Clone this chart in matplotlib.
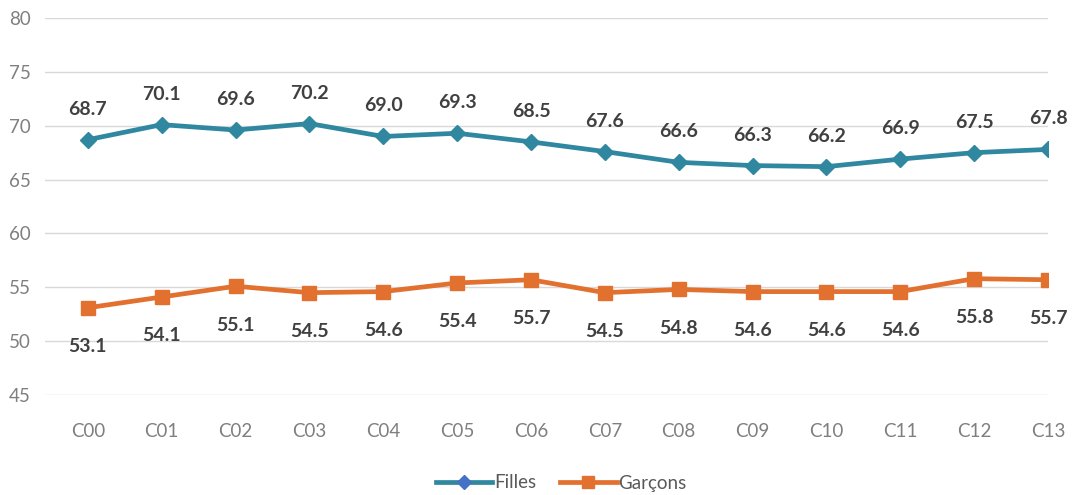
import matplotlib.pyplot as plt
from matplotlib.lines import Line2D

categories = ['C00', 'C01', 'C02', 'C03', 'C04', 'C05', 'C06',
              'C07', 'C08', 'C09', 'C10', 'C11', 'C12', 'C13']
filles = [68.7, 70.1, 69.6, 70.2, 69.0, 69.3, 68.5,
          67.6, 66.6, 66.3, 66.2, 66.9, 67.5, 67.8]
garcons = [53.1, 54.1, 55.1, 54.5, 54.6, 55.4, 55.7,
           54.5, 54.8, 54.6, 54.6, 54.6, 55.8, 55.7]

teal = '#2F87A0'
orange = '#E2702F'
label_col = '#404040'

plt.rcParams['font.family'] = ['Lato', 'DejaVu Sans']

fig = plt.figure(figsize=(10.73, 4.95), dpi=100)
ax = fig.add_axes([45 / 1073, 1 - 395 / 495, (1048 - 45) / 1073, (395 - 18) / 495])

x = list(range(len(categories)))
ax.plot(x, filles, color=teal, lw=3.4, marker='D', ms=8.5, zorder=3)
ax.plot(x, garcons, color=orange, lw=3.4, marker='s', ms=10, zorder=3)

# value labels: above for Filles, below for Garçons
for xi, v in zip(x, filles):
    ax.annotate(f'{v:.1f}', (xi, v), xytext=(0, 22), textcoords='offset points',
                ha='center', va='center', fontsize=14, fontweight='bold', color=label_col)
for xi, v in zip(x, garcons):
    ax.annotate(f'{v:.1f}', (xi, v), xytext=(0, -28), textcoords='offset points',
                ha='center', va='center', fontsize=14, fontweight='bold', color=label_col)

ax.set_ylim(45, 80)
ax.set_yticks(range(45, 81, 5))
ax.set_xlim(-0.58, 13.0)
ax.set_xticks(x)
ax.set_xticklabels(categories)
ax.tick_params(length=0, labelsize=13.5, colors='#7F7F7F')
ax.tick_params(axis='x', pad=20)
ax.tick_params(axis='y', pad=10)
ax.grid(axis='y', color='#D9D9D9', lw=1)
ax.set_axisbelow(True)
for s in ax.spines.values():
    s.set_visible(False)

handles = [
    Line2D([], [], color=teal, lw=3.4, marker='D', ms=7, mfc='#4472C4', mec='#4472C4'),
    Line2D([], [], color=orange, lw=3.4, marker='s', ms=8.5),
]
fig.legend(handles, ['Filles', 'Garçons'], loc='center', bbox_to_anchor=(0.523, 1 - 483 / 495),
           ncol=2, frameon=False, fontsize=13.5, handlelength=3.0, handletextpad=0.1,
           columnspacing=1.3, labelcolor='#595959')

fig.savefig('out.png', dpi=100)
